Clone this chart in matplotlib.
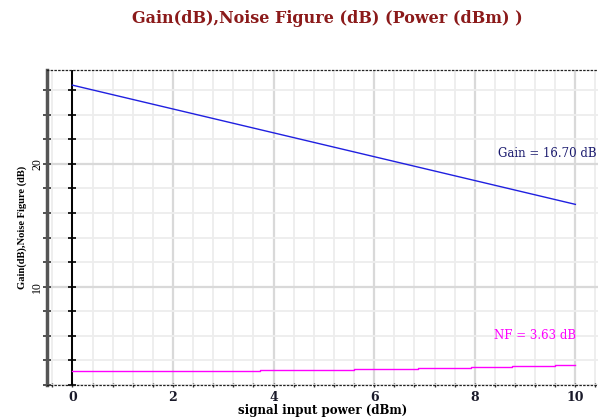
import numpy as np
import matplotlib
matplotlib.use("Agg")
import matplotlib.pyplot as plt

# signal input power (dBm) and gain (dB)
power = [0, 1, 2, 3, 4, 5, 6, 7, 8, 9, 10]
gain = [26.40, 25.43, 24.46, 23.49, 22.52, 21.55, 20.58, 19.61, 18.64, 17.67, 16.70]

# noise figure is a step curve
nf_power = [0, 3.73, 5.60, 6.88, 7.93, 8.75, 9.59, 10]
nf = [3.12, 3.21, 3.29, 3.38, 3.46, 3.55, 3.63, 3.63]

x_ticks = [0, 2, 4, 6, 8, 10]
y_ticks = [10, 20]

plt.rcParams['font.family'] = ['Liberation Serif', 'DejaVu Serif']
wide = ['DejaVu Serif']

fig = plt.figure(figsize=(5.98, 4.19), dpi=100)
ax = fig.add_axes([0.079, 0.081, 0.921, 0.751])

ax.plot(power, gain, color='#2020e0', lw=1.0, zorder=3)
ax.plot(nf_power, nf, color='#ff00ff', lw=1.0, drawstyle='steps-post', zorder=3)

ax.set_xlim(-0.5, 10.45)
ax.set_ylim(2.15, 27.6)

# grid
ax.set_xticks(x_ticks)
ax.set_xticks(np.arange(-1, 27) * 0.4, minor=True)
ax.set_yticks(y_ticks)
ax.set_yticks(np.arange(1, 14) * 2, minor=True)
ax.grid(which='minor', color='#ededed', lw=1.3, zorder=0)
ax.grid(which='major', color='#d9d9d9', lw=1.6, zorder=0)
ax.set_axisbelow(True)

# black zero line with its own ticks
ax.axvline(0, color='black', lw=1.4, zorder=2)
ax.plot([0] * 13, np.arange(1, 14) * 2, ls='none', marker='_', color='black',
        markersize=6, markeredgewidth=1.2, zorder=2)

for side in ['top', 'bottom']:
    ax.spines[side].set_linestyle((0, (1, 2)))
    ax.spines[side].set_linewidth(0.9)
    ax.spines[side].set_color('#222222')
ax.spines['right'].set_visible(False)
ax.spines['left'].set_color('#555555')
ax.spines['left'].set_linewidth(2.5)

ax.tick_params(axis='x', which='both', direction='inout', length=3, width=1.0, color='#333333')
ax.tick_params(axis='x', which='major', labelsize=9, pad=3, labelcolor='#1a1a2a')
ax.tick_params(axis='y', which='both', direction='inout', length=6, width=1.2, color='#333333')
ax.tick_params(axis='y', which='major', labelsize=8.5, pad=0)
for lab in ax.get_xticklabels():
    lab.set_fontweight('bold')
    lab.set_family(wide)
for lab in ax.get_yticklabels():
    lab.set_rotation(90)
    lab.set_va('center')

ax.set_xlabel('signal input power (dBm)', fontsize=8.5, fontweight='bold', labelpad=0,
              family=wide)
ax.set_ylabel('Gain(dB),Noise Figure (dB)', fontsize=7.6, fontweight='bold', labelpad=3)

fig.text(0.547, 0.955, 'Gain(dB),Noise Figure (dB) (Power (dBm) )', ha='center', va='center',
         fontsize=11.5, fontweight='bold', color='#8b1a1a', family=wide)

ax.text(0.998, 0.737, 'Gain = 16.70 dB', transform=ax.transAxes, ha='right', va='center',
        fontsize=8.5, color='#1a1a6e', family=wide)
ax.text(0.96, 0.157, 'NF = 3.63 dB', transform=ax.transAxes, ha='right', va='center',
        fontsize=8.5, color='#ff00ff', family=wide)

fig.savefig('out.png', dpi=100)
